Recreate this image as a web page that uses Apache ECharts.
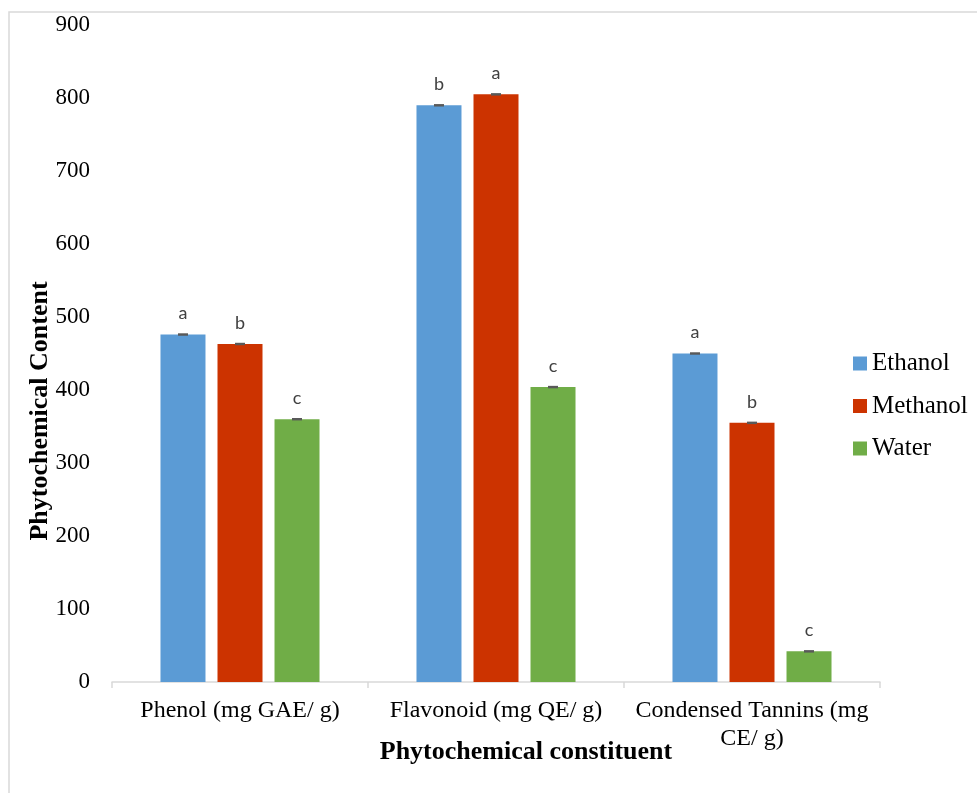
<!DOCTYPE html>
<html>
<head>
<meta charset="utf-8">
<script src="https://cdn.jsdelivr.net/npm/echarts@6/dist/echarts.min.js"></script>
<style>
  html, body { margin: 0; padding: 0; background: #fff; }
  #main { width: 977px; height: 793px; }
</style>
</head>
<body>
<div id="main"></div>
<script>
// data
var categories = ['Phenol (mg GAE/ g)', 'Flavonoid (mg QE/ g)', 'Condensed Tannins (mg\nCE/ g)'];
var ethanol = [476, 790, 450];
var methanol = [463, 805, 355];
var water = [360, 404, 42];
var ethanolErr = [1, 1, 1];
var methanolErr = [1, 1, 1];
var waterErr = [1, 1, 1];
var ethanolLetters = ['a', 'b', 'a'];
var methanolLetters = ['b', 'a', 'b'];
var waterLetters = ['c', 'c', 'c'];
var yTicks = [0, 100, 200, 300, 400, 500, 600, 700, 800, 900];

var colors = ['#5B9BD5', '#CC3300', '#70AD47'];
var barW = 45, gap = 12;

var chart = echarts.init(document.getElementById('main'));

function barSeries(name, vals, letters, color) {
    return {
        name: name,
        type: 'bar',
        data: vals,
        barWidth: barW,
        barGap: (gap / barW * 100).toFixed(1) + '%',
        itemStyle: { color: color },
        label: {
            show: true,
            position: 'top',
            distance: 12,
            formatter: function (p) { return letters[p.dataIndex]; },
            fontFamily: 'Lato',
            fontSize: 18,
            color: '#404040'
        }
    };
}

// small error caps on top of each bar
function errSeries(vals, errs, offset) {
    return {
        type: 'custom',
        z: 5,
        silent: true,
        data: vals.map(function (v, i) { return [i, v, errs[i]]; }),
        encode: { x: 0, y: 1 },
        renderItem: function (params, api) {
            var i = api.value(0), v = api.value(1), e = api.value(2);
            var hi = api.coord([i, v + e]);
            var lo = api.coord([i, v - e]);
            var x = hi[0] + offset;
            return {
                type: 'rect',
                shape: { x: x - 5, y: hi[1] - 0.5, width: 10, height: Math.max(2, lo[1] - hi[1] + 1) },
                style: { fill: '#595959' }
            };
        }
    };
}

var option = {
    animation: false,
    grid: { left: 112, right: 97, top: 25, bottom: 111 },
    legend: {
        orient: 'vertical',
        left: 848,
        top: 346,
        itemWidth: 14,
        itemHeight: 14,
        itemGap: 17.5,
        icon: 'rect',
        textStyle: { fontFamily: 'Liberation Serif', fontSize: 25, color: '#000' },
        data: ['Ethanol', 'Methanol', 'Water']
    },
    xAxis: {
        type: 'category',
        data: categories,
        axisLine: { lineStyle: { color: '#d9d9d9', width: 1.5 } },
        axisTick: { show: true, interval: 0, length: 6, lineStyle: { color: '#d9d9d9', width: 1.5 } },
        axisLabel: {
            interval: 0,
            margin: 15,
            fontFamily: 'Liberation Serif',
            fontSize: 24,
            lineHeight: 28,
            color: '#000'
        }
    },
    yAxis: {
        type: 'value',
        min: yTicks[0],
        max: yTicks[yTicks.length - 1],
        interval: 100,
        axisLine: { show: false },
        axisTick: { show: false },
        splitLine: { show: false },
        axisLabel: { margin: 22, fontFamily: 'Liberation Serif', fontSize: 23, color: '#000' }
    },
    graphic: [
        {
            type: 'rect',
            silent: true,
            shape: { x: 9, y: 12, width: 1100, height: 1000 },
            style: { fill: 'none', stroke: '#d9d9d9', lineWidth: 1.5 }
        },
        {
            type: 'text',
            x: 40,
            y: 411,
            rotation: Math.PI / 2,
            style: {
                text: 'Phytochemical Content',
                fontFamily: 'Liberation Serif',
                fontWeight: 'bold',
                fontSize: 26,
                fill: '#000',
                align: 'center',
                verticalAlign: 'middle'
            }
        },
        {
            type: 'text',
            x: 526,
            y: 752,
            style: {
                text: 'Phytochemical constituent',
                fontFamily: 'Liberation Serif',
                fontWeight: 'bold',
                fontSize: 26,
                fill: '#000',
                align: 'center',
                verticalAlign: 'middle'
            }
        }
    ],
    series: [
        barSeries('Ethanol', ethanol, ethanolLetters, colors[0]),
        barSeries('Methanol', methanol, methanolLetters, colors[1]),
        barSeries('Water', water, waterLetters, colors[2]),
        errSeries(ethanol, ethanolErr, -(barW + gap)),
        errSeries(methanol, methanolErr, 0),
        errSeries(water, waterErr, barW + gap)
    ]
};

chart.setOption(option);
</script>
</body>
</html>
